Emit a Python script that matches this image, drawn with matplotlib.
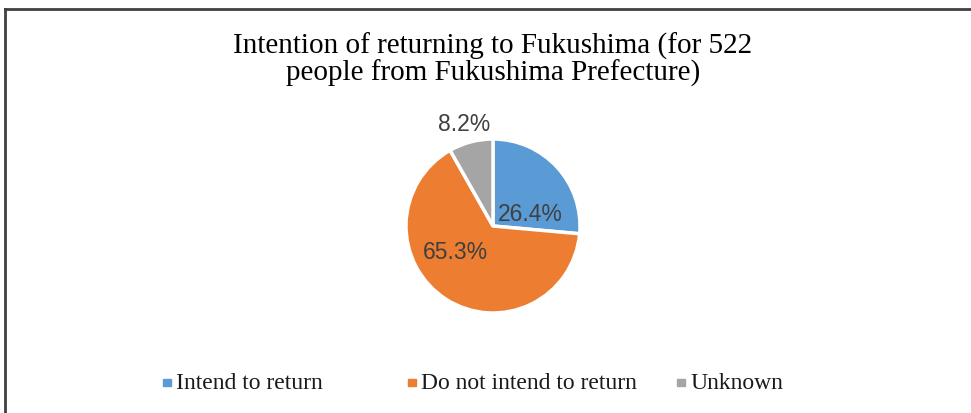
import numpy as np
import matplotlib.pyplot as plt
from matplotlib.patches import Rectangle

# datos del gráfico
labels = ["Intend to return", "Do not intend to return", "Unknown"]
shares = [26.4, 65.3, 8.2]
colors = ["#5B9BD5", "#ED7D31", "#A5A5A5"]

# posición de las etiquetas (radio, ángulo en grados)
label_pos = [(0.45, 19), (0.52, 214), (1.22, 106)]
# posición x (px) de cada cuadrito de la leyenda
legend_x = [163, 408, 677]

W, H = 971, 414
fig = plt.figure(figsize=(W / 100, H / 100), dpi=100)
fig.patch.set_facecolor("white")

# marco del gráfico (solo arriba e izquierda visibles)
fig.add_artist(plt.Line2D([4.5 / W, 4.5 / W], [0, 1 - 9.5 / H], color="#404040", lw=2))
fig.add_artist(plt.Line2D([4.5 / W, 1], [1 - 9.5 / H, 1 - 9.5 / H], color="#404040", lw=2))

cx, cy, r = 493, 227, 87
ax = fig.add_axes([(cx - r) / W, (H - cy - r) / H, 2 * r / W, 2 * r / H])
wedges, texts = ax.pie(shares, colors=colors, startangle=90, counterclock=False,
                       wedgeprops=dict(edgecolor="white", linewidth=2.5))
ax.set_xlim(-1, 1)
ax.set_ylim(-1, 1)
ax.set_aspect("equal")
ax.axis("off")

for val, (rr, ang) in zip(shares, label_pos):
    a = np.deg2rad(ang)
    ax.text(rr * np.cos(a), rr * np.sin(a), f"{val:.1f}%", ha="center", va="center",
            fontsize=16.5, color="#404040", family="Liberation Sans", clip_on=False)

fig.text(493 / W, 1 - 60 / H, "Intention of returning to Fukushima (for 522\npeople from Fukushima Prefecture)",
         ha="center", va="center", fontsize=21, family="Liberation Serif", linespacing=0.98)

# leyenda
ly = 1 - 383.5 / H
for x, c, lab in zip(legend_x, colors, labels):
    fig.add_artist(Rectangle((x / W, ly - 3.5 / H), 7.5 / W, 7.5 / H, color=c, transform=fig.transFigure))
    fig.text((x + 13) / W, ly, lab, ha="left", va="center", fontsize=17,
             family="Liberation Serif", color="#1a1a1a")

fig.savefig("out.png", dpi=100)
